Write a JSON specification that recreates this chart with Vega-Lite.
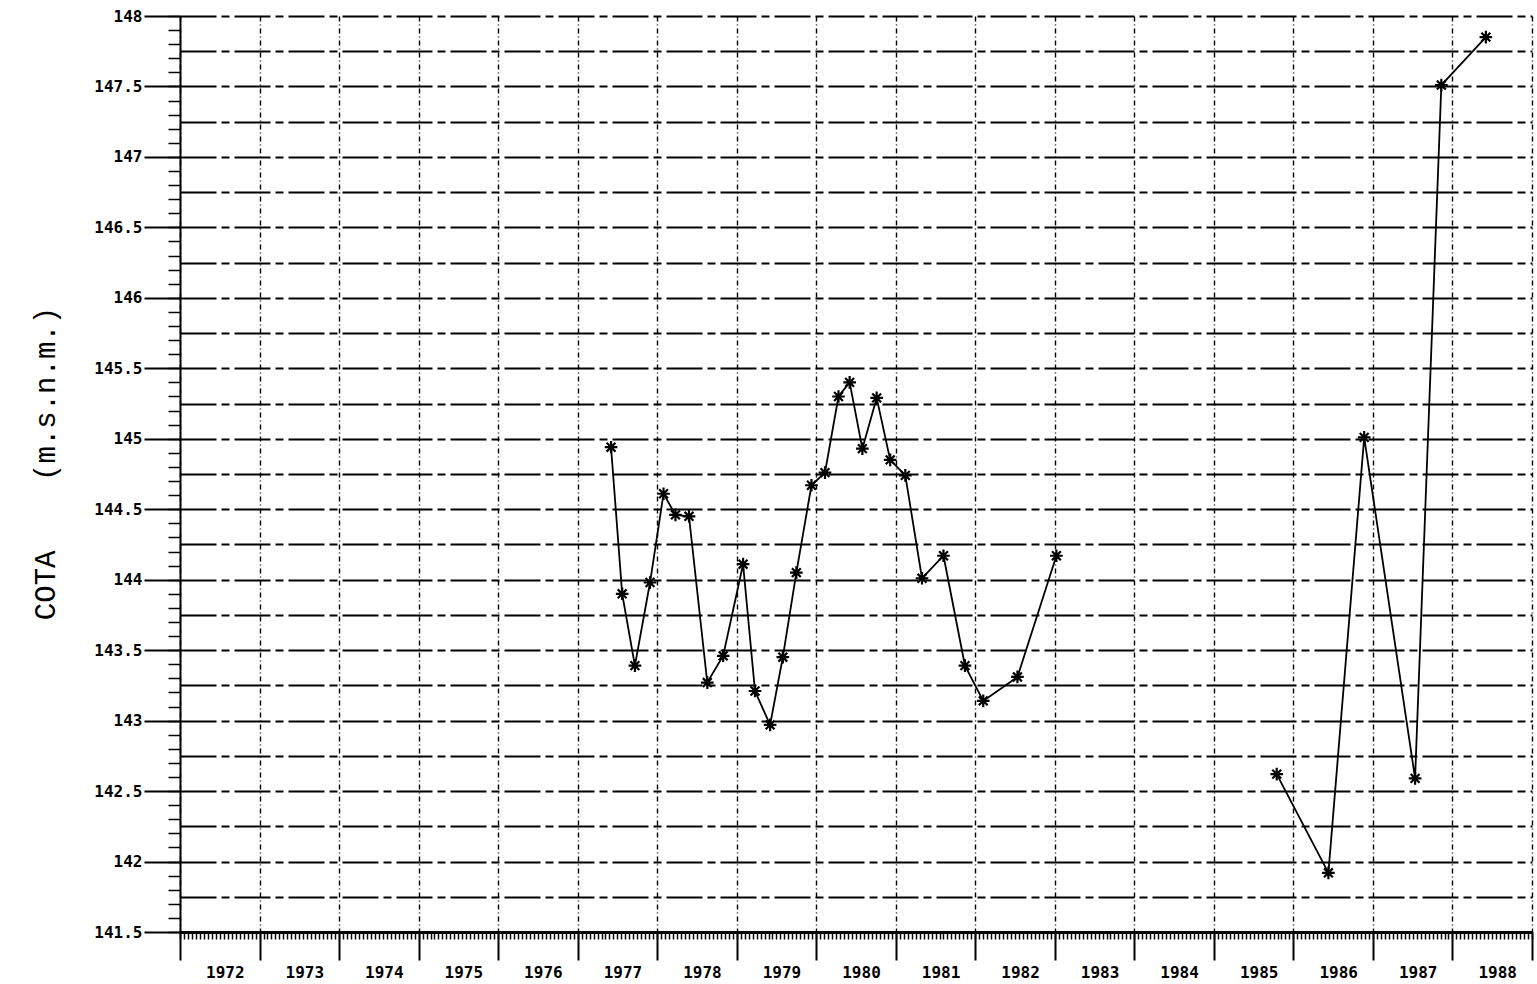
{
  "$schema": "https://vega.github.io/schema/vega-lite/v6.json",
  "width": 1352,
  "height": 916,
  "autosize": "none",
  "padding": {"left": 180, "top": 16, "right": 5, "bottom": 52},
  "background": "white",
  "config": {"view": {"stroke": null}},
  "data": {
    "values": [
      {"t": 1977.42, "v": 144.94, "seg": 1},
      {"t": 1977.56, "v": 143.90, "seg": 1},
      {"t": 1977.72, "v": 143.39, "seg": 1},
      {"t": 1977.91, "v": 143.98, "seg": 1},
      {"t": 1978.08, "v": 144.61, "seg": 1},
      {"t": 1978.23, "v": 144.46, "seg": 1},
      {"t": 1978.40, "v": 144.45, "seg": 1},
      {"t": 1978.63, "v": 143.27, "seg": 1},
      {"t": 1978.83, "v": 143.46, "seg": 1},
      {"t": 1979.08, "v": 144.11, "seg": 1},
      {"t": 1979.23, "v": 143.21, "seg": 1},
      {"t": 1979.42, "v": 142.97, "seg": 1},
      {"t": 1979.58, "v": 143.45, "seg": 1},
      {"t": 1979.75, "v": 144.05, "seg": 1},
      {"t": 1979.94, "v": 144.67, "seg": 1},
      {"t": 1980.11, "v": 144.76, "seg": 1},
      {"t": 1980.28, "v": 145.30, "seg": 1},
      {"t": 1980.42, "v": 145.40, "seg": 1},
      {"t": 1980.58, "v": 144.93, "seg": 1},
      {"t": 1980.76, "v": 145.29, "seg": 1},
      {"t": 1980.93, "v": 144.85, "seg": 1},
      {"t": 1981.12, "v": 144.74, "seg": 1},
      {"t": 1981.33, "v": 144.01, "seg": 1},
      {"t": 1981.60, "v": 144.17, "seg": 1},
      {"t": 1981.87, "v": 143.39, "seg": 1},
      {"t": 1982.10, "v": 143.14, "seg": 1},
      {"t": 1982.53, "v": 143.31, "seg": 1},
      {"t": 1983.02, "v": 144.17, "seg": 1},
      {"t": 1985.79, "v": 142.62, "seg": 2},
      {"t": 1986.44, "v": 141.92, "seg": 2},
      {"t": 1986.89, "v": 145.01, "seg": 2},
      {"t": 1987.53, "v": 142.59, "seg": 2},
      {"t": 1987.86, "v": 147.51, "seg": 2},
      {"t": 1988.42, "v": 147.85, "seg": 2}
    ]
  },
  "resolve": {"axis": {"x": "independent", "y": "independent"}},
  "layer": [
    {
      "mark": {"type": "line", "color": "black", "strokeWidth": 1.8, "clip": true},
      "encoding": {
        "x": {
          "field": "t", "type": "quantitative",
          "scale": {"domain": [1972, 1989], "nice": false, "zero": false},
          "axis": {
            "orient": "bottom", "values": [1972,1973,1974,1975,1976,1977,1978,1979,1980,1981,1982,1983,1984,1985,1986,1987,1988,1989],
            "labels": false, "title": null,
            "grid": true, "gridColor": "black", "gridOpacity": 1, "gridWidth": 1.4, "gridDash": [5, 3, 1, 3],
            "ticks": true, "tickSize": 28, "tickColor": "black", "tickWidth": 2,
            "domain": true, "domainColor": "black", "domainWidth": 3, "zindex": 0
          }
        },
        "y": {
          "field": "v", "type": "quantitative",
          "scale": {"domain": [141.5, 148], "nice": false, "zero": false},
          "axis": {
            "orient": "left", "values": [141.5,142,142.5,143,143.5,144,144.5,145,145.5,146,146.5,147,147.5,148],
            "format": "~g", "grid": false,
            "ticks": true, "tickSize": 36, "tickColor": "black", "tickWidth": 2,
            "domain": true, "domainColor": "black", "domainWidth": 2,
            "labelFont": "DejaVu Sans Mono", "labelFontWeight": "bold", "labelFontSize": 16, "labelColor": "black", "labelPadding": 2,
            "title": "COTA\u00a0\u00a0\u00a0\u00a0(m.s.n.m.)",
            "titleFont": "Liberation Mono", "titleFontSize": 29, "titleFontWeight": "normal", "titleColor": "black",
            "titleAngle": -90, "titleAlign": "center", "titleBaseline": "middle",
            "titleX": -135, "titleY": 447, "zindex": 1
          }
        },
        "detail": {"field": "seg", "type": "nominal"}
      }
    },
    {
      "mark": {"type": "point", "shape": "M-1,0L1,0M0,-1L0,1M-0.7,-0.7L0.7,0.7M-0.7,0.7L0.7,-0.7", "filled": false, "stroke": "black", "strokeWidth": 2.2, "size": 160, "opacity": 1},
      "encoding": {
        "x": {
          "field": "t", "type": "quantitative",
          "axis": {
            "orient": "bottom", "tickCount": 340, "labels": false, "title": null, "grid": false,
            "ticks": true, "tickSize": 7, "tickColor": "black", "tickWidth": 1.5, "domain": false, "zindex": 1
          }
        },
        "y": {
          "field": "v", "type": "quantitative",
          "axis": {
            "orient": "left", "tickCount": 65, "labels": false, "title": null, "grid": false,
            "ticks": true, "tickSize": 12, "tickColor": "black", "tickWidth": 1.5, "domain": false, "zindex": 1
          }
        }
      }
    },
    {
      "mark": {"type": "point", "opacity": 0},
      "encoding": {
        "x": {
          "field": "t", "type": "quantitative",
          "axis": {
            "orient": "bottom", "values": [1972.5,1973.5,1974.5,1975.5,1976.5,1977.5,1978.5,1979.5,1980.5,1981.5,1982.5,1983.5,1984.5,1985.5,1986.5,1987.5,1988.5],
            "labelExpr": "floor(datum.value)", "title": null, "grid": false, "ticks": false, "domain": false,
            "labelFont": "DejaVu Sans Mono", "labelFontWeight": "bold", "labelFontSize": 16, "labelColor": "black",
            "labelPadding": 32, "labelOffset": 5, "labelBaseline": "top"
          }
        },
        "y": {
          "field": "v", "type": "quantitative",
          "axis": {
            "orient": "left", "values": [141.75,142.25,142.75,143.25,143.75,144.25,144.75,145.25,145.75,146.25,146.75,147.25,147.75,142,142.5,143,143.5,144,144.5,145,145.5,146,146.5,147,147.5,148],
            "labels": false, "title": null, "ticks": false, "domain": false,
            "grid": true, "gridColor": "black", "gridOpacity": 1, "gridWidth": 1.8, "gridDash": [36, 5, 8, 5], "zindex": 0
          }
        }
      }
    }
  ]
}
